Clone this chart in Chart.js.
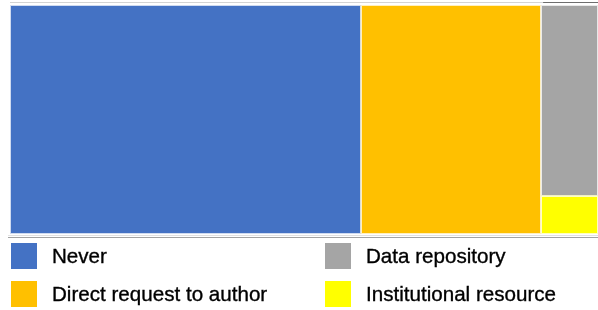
<!DOCTYPE html>
<html><head><meta charset="utf-8">
<script src="https://cdn.jsdelivr.net/npm/chart.js@4"></script>
<style>
html,body{margin:0;padding:0;background:#fff;}
#wrap{position:relative;width:598px;height:310px;overflow:hidden;}
#c{position:absolute;left:0;top:0;}
#legend{position:absolute;left:11px;top:243px;display:grid;grid-template-columns:314px auto;grid-auto-rows:38px;font-family:"Liberation Sans",Arial,sans-serif;font-size:20.6px;color:#000;-webkit-text-stroke:0.35px #000;}
.item{display:flex;align-items:center;height:26px;white-space:nowrap;}
.box{width:26px;height:26px;margin-right:15px;flex:none;-webkit-text-stroke:0;}
</style></head><body>
<div id="wrap"><canvas id="c" width="598" height="310"></canvas><div id="legend"></div></div>
<script>
const categories = ['Never', 'Direct request to author', 'Data repository', 'Institutional resource'];
const values = [37, 19, 5, 1];
const colors = ['#4472C4', '#FFC000', '#A5A5A5', '#FFFF00'];
const legendOrder = ['Never', 'Data repository', 'Direct request to author', 'Institutional resource'];

function worst(row, s) {
  const sum = row.reduce((a, b) => a + b.a, 0);
  const mx = Math.max(...row.map(r => r.a)), mn = Math.min(...row.map(r => r.a));
  return Math.max(s * s * mx / (sum * sum), sum * sum / (s * s * mn));
}
function squarify(vals, W, H) {
  const total = vals.reduce((a, b) => a + b, 0);
  let rest = vals.map((v, i) => ({ i, a: v / total * W * H })).sort((p, q) => q.a - p.a);
  let x = 0, y = 0, w = W, h = H;
  const out = [];
  while (rest.length) {
    const s = Math.min(w, h);
    let row = [rest[0]], k = 1;
    while (k < rest.length && worst(row.concat([rest[k]]), s) <= worst(row, s)) { row.push(rest[k]); k++; }
    rest = rest.slice(k);
    const sum = row.reduce((a, b) => a + b.a, 0);
    if (w >= h) {
      const cw = sum / h; let yy = y;
      row.forEach(r => { const rh = r.a / cw; out.push({ i: r.i, x, y: yy, w: cw, h: rh }); yy += rh; });
      x += cw; w -= cw;
    } else {
      const rh = sum / w; let xx = x;
      row.forEach(r => { const rw = r.a / rh; out.push({ i: r.i, x: xx, y, w: rw, h: rh }); xx += rw; });
      y += rh; h -= rh;
    }
  }
  return out.map(r => ({ i: r.i, x0: r.x / W, x1: (r.x + r.w) / W, y0: r.y / H, y1: (r.y + r.h) / H }));
}

const treemapPlugin = {
  id: 'treemap',
  beforeDatasetsDraw(chart) {
    const { ctx, chartArea: ca, scales: { x, y } } = chart;
    const rects = squarify(values, ca.right - ca.left, ca.bottom - ca.top);
    ctx.save();
    ctx.fillStyle = '#d4d4d4';
    ctx.fillRect(ca.left, ca.top - 3, ca.right - ca.left, 1);
    const last = rects.filter(r => r.x1 >= 0.999 && r.y0 <= 0.001)[0];
    if (last) {
      ctx.fillStyle = '#6e6e6e';
      const px = x.getPixelForValue(last.x0) + 2;
      ctx.fillRect(px, ca.top - 3, ca.right - px, 1);
    }
    ctx.fillStyle = '#e2e2e2';
    ctx.fillRect(ca.left - 2, ca.bottom + 1, ca.right - ca.left + 2, 1);
    ctx.fillStyle = '#a3a3a3';
    ctx.fillRect(ca.left - 2, ca.bottom + 3, ca.right - ca.left + 2, 1);
    rects.forEach(r => {
      const px0 = x.getPixelForValue(r.x0), px1 = x.getPixelForValue(r.x1);
      const py0 = y.getPixelForValue(r.y0), py1 = y.getPixelForValue(r.y1);
      ctx.fillStyle = colors[r.i];
      ctx.fillRect(px0, py0, px1 - px0, py1 - py0);
      ctx.strokeStyle = 'rgba(255,255,255,0.75)';
      ctx.lineWidth = 1;
      ctx.strokeRect(Math.round(px0) + 0.5, Math.round(py0) + 0.5, Math.round(px1 - px0) - 1, Math.round(py1 - py0) - 1);
    });
    ctx.restore();
  }
};

const htmlLegendPlugin = {
  id: 'htmlLegend',
  afterUpdate() {
    const el = document.getElementById('legend');
    el.innerHTML = '';
    legendOrder.forEach(name => {
      const i = categories.indexOf(name);
      const item = document.createElement('div'); item.className = 'item';
      const box = document.createElement('span'); box.className = 'box'; box.style.background = colors[i];
      const txt = document.createElement('span'); txt.textContent = name;
      item.appendChild(box); item.appendChild(txt); el.appendChild(item);
    });
  }
};

new Chart(document.getElementById('c'), {
  type: 'scatter',
  data: { datasets: [{ label: 'treemap', data: [] }] },
  options: {
    responsive: false, animation: false,
    layout: { padding: { left: 10, right: 0, top: 5, bottom: 76 } },
    plugins: { legend: { display: false }, tooltip: { enabled: false } },
    scales: {
      x: { type: 'linear', min: 0, max: 1, display: false },
      y: { type: 'linear', min: 0, max: 1, reverse: true, display: false }
    }
  },
  plugins: [treemapPlugin, htmlLegendPlugin]
});
</script>
</body></html>
